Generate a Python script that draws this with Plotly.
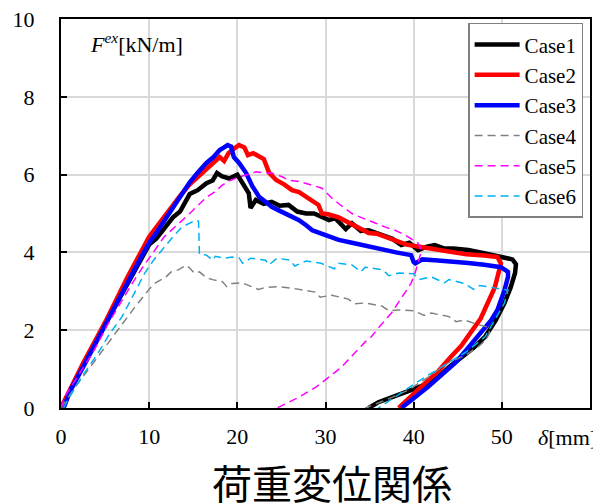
import plotly.graph_objects as go

# ---- data ----
case1_x = [0, 1, 2.5, 5, 7.5, 10, 10.8, 11.5, 12.7, 13.5, 14.6, 15.5, 16.5, 17.2, 17.7, 18.3, 19.1, 20.0, 20.6, 21.3, 21.5, 22.1, 23.0, 23.9, 24.8, 25.8, 26.8, 27.8, 28.7, 29.6, 30.4, 31.1, 32.3, 33.0, 34.0, 34.9, 35.8, 36.8, 37.6, 38.6, 39.5, 40.5, 41.5, 42.4, 43.5, 44.5, 46.2, 48.0, 49.9, 51.2, 51.6, 51.5, 51.0, 50.3, 49.3, 48.1, 46.8, 45.4, 44.0, 42.8, 41.3, 39.7, 38.3, 37.1, 36.0, 34.9]
case1_y = [0, 0.45, 1.1, 2.15, 3.2, 4.2, 4.35, 4.55, 4.9, 5.05, 5.5, 5.6, 5.78, 5.85, 6.04, 5.95, 5.9, 6.0, 5.78, 5.52, 5.14, 5.35, 5.25, 5.3, 5.2, 5.22, 5.05, 5.0, 5.0, 4.9, 4.83, 4.88, 4.6, 4.75, 4.55, 4.57, 4.5, 4.4, 4.35, 4.19, 4.25, 4.06, 4.15, 4.19, 4.1, 4.1, 4.06, 3.98, 3.88, 3.82, 3.7, 3.47, 3.1, 2.7, 2.25, 1.83, 1.55, 1.31, 1.05, 0.8, 0.6, 0.46, 0.35, 0.26, 0.15, 0]

case2_x = [0, 1, 2.5, 5, 7.5, 10, 11.3, 12.6, 13.5, 14.6, 15.6, 16.5, 17.3, 18.0, 18.5, 19.0, 19.5, 20.2, 20.8, 21.2, 21.8, 22.5, 23.0, 23.6, 24.4, 25.3, 26.2, 27.0, 27.8, 28.5, 29.2, 29.6, 30.3, 31.5, 32.5, 33.5, 34.9, 35.8, 36.8, 38.0, 39.2, 40.5, 42.0, 44.2, 46.0, 48.0, 49.5, 49.9, 49.6, 49.2, 48.5, 47.6, 46.5, 45.4, 44.2, 42.8, 41.3, 39.8, 38.3]
case2_y = [0, 0.48, 1.15, 2.2, 3.35, 4.4, 4.8, 5.2, 5.45, 5.75, 5.95, 6.15, 6.3, 6.45, 6.35, 6.55, 6.65, 6.76, 6.7, 6.5, 6.55, 6.45, 6.4, 6.05, 5.86, 5.75, 5.6, 5.55, 5.42, 5.3, 5.22, 5.0, 4.98, 4.9, 4.78, 4.65, 4.5, 4.48, 4.4, 4.3, 4.2, 4.15, 4.1, 4.0, 3.95, 3.92, 3.88, 3.72, 3.4, 3.1, 2.75, 2.3, 1.95, 1.6, 1.31, 0.95, 0.64, 0.3, 0]

case3_x = [0.3, 1, 2.5, 5, 7.5, 8.9, 10.0, 10.8, 11.8, 12.7, 13.6, 14.6, 15.5, 16.5, 17.3, 18.0, 18.5, 18.9, 19.3, 19.6, 20.2, 21.0, 21.7, 22.5, 23.2, 23.9, 24.7, 25.5, 26.3, 27.0, 27.8, 28.5, 29.3, 30.4, 31.5, 33.0, 34.9, 36.5, 38.0, 39.7, 40.0, 40.2, 41.0, 42.4, 44.0, 46.2, 48.0, 49.9, 50.7, 50.7, 50.3, 49.5, 48.8, 47.3, 46.0, 44.7, 43.2, 41.6, 40.0, 38.6]
case3_y = [0, 0.42, 1.05, 2.1, 3.2, 3.8, 4.25, 4.5, 4.85, 5.17, 5.5, 5.8, 6.05, 6.3, 6.45, 6.63, 6.7, 6.76, 6.72, 6.45, 6.3, 6.04, 5.7, 5.42, 5.3, 5.17, 5.08, 5.0, 4.9, 4.83, 4.7, 4.57, 4.5, 4.4, 4.32, 4.25, 4.15, 4.05, 4.0, 3.93, 3.75, 3.72, 3.82, 3.8, 3.78, 3.73, 3.68, 3.62, 3.5, 3.37, 3.03, 2.52, 2.26, 1.83, 1.5, 1.16, 0.85, 0.54, 0.25, 0]

case4_x = [0, 1.6, 3.3, 5.0, 6.7, 8.4, 10.0, 10.6, 11.9, 12.5, 13.3, 14.2, 14.6, 15.1, 15.7, 16.5, 17.2, 18.3, 18.8, 19.4, 20.5, 21.5, 22.4, 23.2, 24.7, 26.2, 27.0, 28.8, 29.4, 30.7, 32.6, 33.3, 34.5, 36.4, 37.2, 38.3, 40.0, 41.2, 42.0, 44.0, 44.8, 45.8, 47.2, 48.4, 48.6, 48.2, 47.3, 45.8, 43.9, 41.7, 39.4, 37.0, 34.5]
case4_y = [0, 0.54, 1.05, 1.57, 2.1, 2.6, 3.05, 3.2, 3.37, 3.5, 3.55, 3.67, 3.6, 3.47, 3.5, 3.35, 3.3, 3.25, 3.12, 3.2, 3.22, 3.12, 3.05, 3.1, 3.12, 3.08, 3.05, 2.98, 2.85, 2.9, 2.8, 2.68, 2.7, 2.62, 2.5, 2.52, 2.5, 2.38, 2.44, 2.35, 2.22, 2.26, 2.15, 2.08, 1.93, 1.75, 1.57, 1.35, 1.16, 0.8, 0.46, 0.22, 0]

case5_x = [0, 0.45, 2.0, 3.8, 5.3, 6.9, 8.2, 9.5, 10.0, 11.7, 12.7, 13.6, 14.6, 15.5, 16.5, 17.4, 18.3, 19.2, 20.2, 21.2, 22.1, 23.0, 23.9, 25.0, 25.8, 27.0, 27.8, 28.6, 29.6, 30.7, 31.8, 33.0, 34.0, 34.9, 35.7, 36.8, 37.9, 39.0, 40.0, 40.5, 40.9, 40.2, 39.7, 38.8, 37.9, 37.5, 36.0, 35.2, 34.5, 33.5, 31.8, 30.7, 29.0, 27.0, 24.5]
case5_y = [0, 0.3, 0.85, 1.5, 2.15, 2.75, 3.25, 3.7, 3.85, 4.4, 4.6, 4.8, 5.0, 5.2, 5.42, 5.55, 5.73, 5.85, 5.94, 6.0, 6.07, 6.05, 6.04, 5.95, 5.86, 5.82, 5.78, 5.72, 5.65, 5.4, 5.2, 5.0, 4.9, 4.83, 4.75, 4.65, 4.57, 4.45, 4.32, 4.24, 4.05, 3.5, 3.2, 2.9, 2.6, 2.45, 2.06, 1.83, 1.7, 1.45, 1.05, 0.85, 0.55, 0.28, 0]

case6_x = [0.3, 0.75, 2.5, 4.2, 5.5, 6.9, 8.2, 9.5, 10.5, 11.7, 12.7, 13.7, 14.5, 15.3, 15.6, 15.7, 16.5, 17.2, 17.5, 18.5, 19.4, 20.2, 20.6, 21.5, 23.2, 23.6, 24.5, 26.0, 26.5, 27.8, 29.5, 31.0, 31.5, 33.0, 34.0, 34.5, 36.5, 37.2, 38.3, 40.0, 40.6, 42.0, 43.5, 44.0, 45.8, 46.8, 47.5, 48.8, 50.0, 50.7, 50.3, 49.2, 48.1, 46.0, 43.9, 42.0, 40.2, 38.0, 36.0]
case6_y = [0, 0.2, 0.85, 1.41, 1.9, 2.34, 2.9, 3.47, 3.8, 4.14, 4.4, 4.65, 4.75, 4.83, 4.8, 3.95, 3.93, 3.8, 3.9, 3.85, 3.88, 3.86, 3.72, 3.85, 3.8, 3.68, 3.85, 3.8, 3.65, 3.78, 3.72, 3.58, 3.72, 3.68, 3.5, 3.62, 3.55, 3.4, 3.47, 3.45, 3.3, 3.37, 3.22, 3.3, 3.2, 3.05, 3.15, 3.1, 3.05, 3.03, 2.7, 2.25, 1.83, 1.45, 1.16, 0.88, 0.64, 0.3, 0]

series_names = ["Case1", "Case2", "Case3", "Case4", "Case5", "Case6"]
x_tick_vals = [0, 10, 20, 30, 40, 50]
y_tick_vals = [0, 2, 4, 6, 8, 10]

serif = "Liberation Serif, Times New Roman, serif"

styles = [
    dict(color="#000000", width=4.5, dash="solid"),
    dict(color="#ff0000", width=4.5, dash="solid"),
    dict(color="#0000ff", width=4.5, dash="solid"),
    dict(color="#808080", width=1.5, dash="8px,5px"),
    dict(color="#ff00ff", width=1.5, dash="8px,5px"),
    dict(color="#00b0f0", width=1.5, dash="8px,5px"),
]

xs = [case1_x, case2_x, case3_x, case4_x, case5_x, case6_x]
ys = [case1_y, case2_y, case3_y, case4_y, case5_y, case6_y]

fig = go.Figure()
for name, x, y, st in zip(series_names, xs, ys, styles):
    fig.add_trace(go.Scatter(x=x, y=y, mode="lines", name=name, line=st))

axis_common = dict(
    showline=True, linecolor="black", linewidth=2, mirror=True,
    showgrid=True, gridcolor="#d9d9d9", gridwidth=1.5,
    ticks="inside", ticklen=6, tickwidth=1.5, tickcolor="black",
    zeroline=False, automargin=False, ticklabeloverflow="allow",
    tickfont=dict(family=serif, size=22, color="black"),
)

fig.update_xaxes(range=[0, 60], tickvals=x_tick_vals, ticktext=[str(v) for v in x_tick_vals],
                 ticklabelstandoff=8, **axis_common)
fig.update_yaxes(range=[0, 10], tickvals=y_tick_vals, ticktext=[str(v) for v in y_tick_vals],
                 ticklabelstandoff=20, **axis_common)

# the page body has an 8px default margin, so the figure is 8px smaller/left-shifted
fig.update_layout(
    width=593, height=496,
    margin=dict(l=53, r=11, t=11, b=96),
    paper_bgcolor="white", plot_bgcolor="white",
    showlegend=True,
    legend=dict(
        x=0.987, y=0.99, xanchor="right", yanchor="top",
        bgcolor="white", bordercolor="#808080", borderwidth=1.5,
        itemwidth=45,
        font=dict(family=serif, size=21, color="black"),
    ),
    annotations=[
        dict(text="<i>F</i><sup><i>ex</i></sup>[kN/m]", xref="paper", yref="paper",
             x=0.051, y=0.938, xanchor="left", yanchor="middle", showarrow=False,
             font=dict(family=serif, size=22, color="black")),
        dict(text="<i>δ</i>[mm]", xref="paper", yref="paper",
             x=(567 - 61) / 529, y=-0.075, xanchor="center", yanchor="middle", showarrow=False,
             font=dict(family=serif, size=22, color="black")),
        dict(text="荷重変位関係", xref="paper", yref="paper",
             x=(332 - 61) / 529, y=-(482 - 408) / 389, xanchor="center", yanchor="middle",
             showarrow=False,
             font=dict(family="Noto Sans CJK JP, sans-serif", size=40, color="black")),
    ],
)

fig.write_html("out.html")
